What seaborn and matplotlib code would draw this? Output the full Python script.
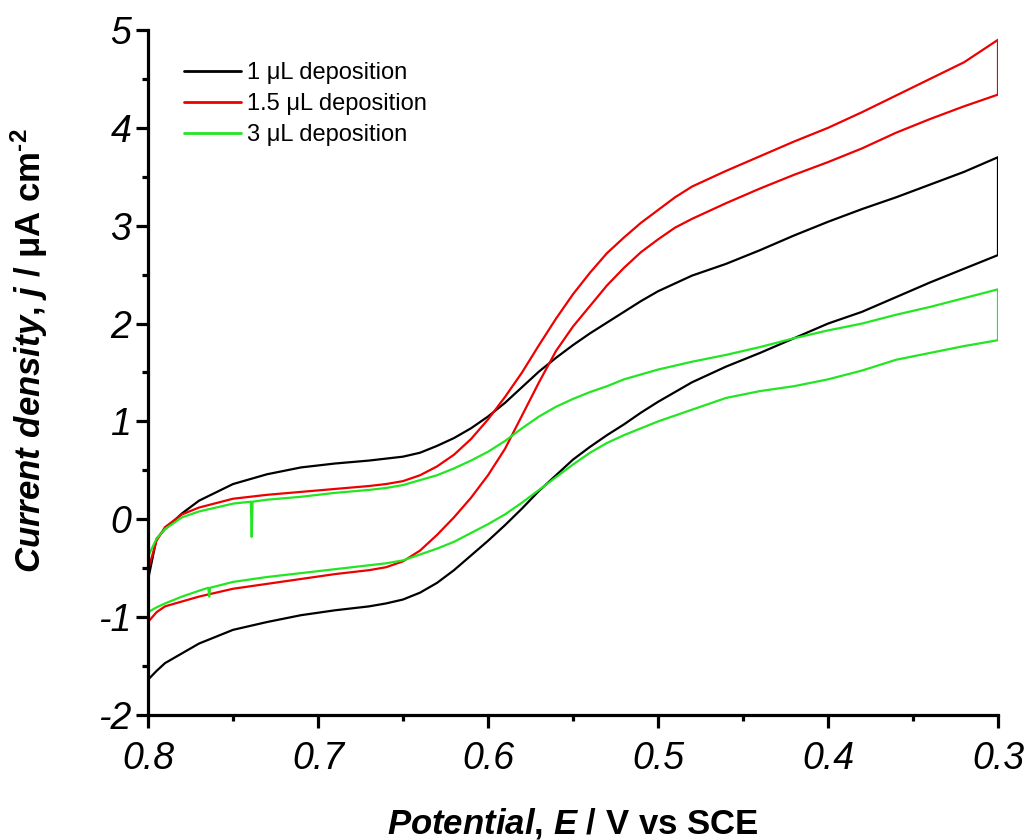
import seaborn as sns
import matplotlib.pyplot as plt
from matplotlib.ticker import MultipleLocator
import pandas as pd
import numpy as np

# potential grid (V vs SCE), shared by forward and reverse sweeps
E_grid = [0.800, 0.795, 0.790, 0.780, 0.770, 0.750, 0.730, 0.710, 0.690, 0.670,
          0.660, 0.650, 0.640, 0.630, 0.620, 0.610, 0.600, 0.590, 0.580, 0.570,
          0.560, 0.550, 0.540, 0.530, 0.520, 0.510, 0.500, 0.490, 0.480, 0.460,
          0.440, 0.420, 0.400, 0.380, 0.360, 0.340, 0.320, 0.300]

# current density (uA cm-2), upper (forward) and lower (reverse) branches
j1_fwd = [-0.62, -0.20, -0.10, 0.06, 0.19, 0.36, 0.46, 0.53, 0.57, 0.60,
          0.62, 0.64, 0.68, 0.75, 0.83, 0.93, 1.05, 1.19, 1.35, 1.51,
          1.65, 1.78, 1.90, 2.01, 2.12, 2.23, 2.33, 2.41, 2.49, 2.61,
          2.75, 2.90, 3.04, 3.17, 3.29, 3.42, 3.55, 3.70]
j1_rev = [-1.64, -1.55, -1.47, -1.37, -1.27, -1.13, -1.05, -0.98, -0.93, -0.89,
          -0.86, -0.82, -0.75, -0.65, -0.52, -0.37, -0.22, -0.06, 0.11, 0.29,
          0.45, 0.61, 0.74, 0.86, 0.97, 1.09, 1.20, 1.30, 1.40, 1.56,
          1.70, 1.85, 2.00, 2.12, 2.27, 2.42, 2.56, 2.70]

j15_fwd = [-0.52, -0.22, -0.08, 0.05, 0.12, 0.21, 0.25, 0.28, 0.31, 0.34,
           0.36, 0.39, 0.45, 0.54, 0.66, 0.82, 1.02, 1.25, 1.50, 1.78,
           2.05, 2.30, 2.52, 2.72, 2.88, 3.03, 3.16, 3.29, 3.40, 3.56,
           3.71, 3.86, 4.00, 4.16, 4.33, 4.50, 4.67, 4.90]
j15_rev = [-1.05, -0.95, -0.89, -0.84, -0.79, -0.71, -0.66, -0.61, -0.56, -0.52,
           -0.49, -0.43, -0.32, -0.16, 0.02, 0.22, 0.45, 0.72, 1.06, 1.40,
           1.72, 1.97, 2.18, 2.39, 2.57, 2.73, 2.86, 2.98, 3.07, 3.23,
           3.38, 3.52, 3.65, 3.79, 3.95, 4.09, 4.22, 4.34]

j3_fwd = [-0.38, -0.20, -0.10, 0.02, 0.08, 0.16, 0.20, 0.23, 0.27, 0.30,
          0.32, 0.35, 0.40, 0.45, 0.52, 0.60, 0.69, 0.80, 0.93, 1.05,
          1.15, 1.23, 1.30, 1.36, 1.43, 1.48, 1.53, 1.57, 1.61, 1.68,
          1.76, 1.85, 1.93, 2.00, 2.09, 2.17, 2.26, 2.35]
j3_rev = [-0.95, -0.90, -0.86, -0.79, -0.73, -0.64, -0.59, -0.55, -0.51, -0.47,
          -0.45, -0.42, -0.36, -0.30, -0.23, -0.14, -0.05, 0.05, 0.17, 0.30,
          0.43, 0.56, 0.68, 0.78, 0.86, 0.93, 1.00, 1.06, 1.12, 1.24,
          1.31, 1.36, 1.43, 1.52, 1.63, 1.70, 1.77, 1.83]

# glitches visible on the 3 uL trace
spike3_fwd_E = [0.7395, 0.7390, 0.7385]
spike3_fwd_j = [0.18, -0.18, 0.18]
spike3_rev_E = [0.7645, 0.7640, 0.7635]
spike3_rev_j = [-0.70, -0.79, -0.70]

labels = ["1 \u03bcL deposition", "1.5 \u03bcL deposition", "3 \u03bcL deposition"]
colors = ["#000000", "#ee0000", "#22e622"]


def branch(E, j, extra_E=(), extra_j=()):
    E = np.concatenate([E, extra_E])
    j = np.concatenate([j, extra_j])
    order = np.argsort(-E, kind="stable")
    return E[order], j[order]


def loop(fwd, rev, sfE=(), sfj=(), srE=(), srj=()):
    Ef, jf = branch(E_grid, fwd, sfE, sfj)
    Er, jr = branch(E_grid, rev, srE, srj)
    return np.concatenate([Ef, Er[::-1]]), np.concatenate([jf, jr[::-1]])


curves = [loop(j1_fwd, j1_rev),
          loop(j15_fwd, j15_rev),
          loop(j3_fwd, j3_rev, spike3_fwd_E, spike3_fwd_j, spike3_rev_E, spike3_rev_j)]

frames = []
for lab, (E, j) in zip(labels, curves):
    frames.append(pd.DataFrame({"E": E, "j": j, "series": lab}))
df = pd.concat(frames, ignore_index=True)

sns.set_theme(style="ticks")
plt.rcParams["font.family"] = ["Liberation Sans", "DejaVu Sans"]
plt.rcParams["axes.unicode_minus"] = False
plt.rcParams["mathtext.fontset"] = "custom"
plt.rcParams["mathtext.it"] = "Liberation Sans:italic:bold"
plt.rcParams["mathtext.rm"] = "Liberation Sans:bold"
plt.rcParams["mathtext.bf"] = "Liberation Sans:bold"
for key in ["text.color", "axes.labelcolor", "xtick.color", "ytick.color", "axes.edgecolor"]:
    plt.rcParams[key] = "black"

fig = plt.figure(figsize=(10.33, 8.4), dpi=100)
ax = fig.add_axes([148 / 1033, 1 - 715 / 840, 850 / 1033, 685 / 840])

sns.lineplot(data=df, x="E", y="j", hue="series", palette=colors, sort=False,
             estimator=None, linewidth=1.6, ax=ax, legend=False)

ax.set_xlim(0.8, 0.3)
ax.set_ylim(-2, 5)
xt = [0.8, 0.7, 0.6, 0.5, 0.4, 0.3]
ax.set_xticks(xt)
ax.set_xticklabels([f"{v:.1f}" for v in xt])
ax.xaxis.set_minor_locator(MultipleLocator(0.05))
ax.set_yticks(range(-2, 6))
ax.set_yticklabels([str(v) for v in range(-2, 6)])
ax.yaxis.set_minor_locator(MultipleLocator(0.5))
ax.set_xlim(0.8, 0.3)

sns.despine(ax=ax)
for s in ["left", "bottom"]:
    ax.spines[s].set_linewidth(2.3)
ax.tick_params(which="major", length=9, width=2.3, labelsize=27, direction="out")
ax.tick_params(axis="x", which="major", pad=10)
ax.tick_params(axis="y", which="major", pad=3)
ax.tick_params(which="minor", length=4, width=2.3, direction="out")
plt.setp(ax.get_xticklabels() + ax.get_yticklabels(), fontstyle="italic")

ax.set_xlabel(r"$\mathit{Potential}$, $\mathit{E}$ / V vs SCE", fontsize=25,
              fontweight="bold")
ax.set_ylabel(r"$\mathit{Current\ density}$, $\mathit{j}$ / μA cm$^{\text{-2}}$",
              fontsize=25, fontweight="bold")
ax.xaxis.set_label_coords(0.5, (715 - 806) / 685)
ax.yaxis.set_label_coords((50 - 148) / 850, (715 - 351) / 685)

handles = [plt.Line2D([], [], color=c, linewidth=2) for c in colors]
fig.legend(handles, labels, loc="upper left", bbox_to_anchor=(184 / 1033, 1 - 62 / 840),
           bbox_transform=fig.transFigure, frameon=False, fontsize=17,
           handlelength=2.4, handletextpad=0.25, labelspacing=0.38,
           borderpad=0, borderaxespad=0)

fig.savefig("out.png", dpi=100)
